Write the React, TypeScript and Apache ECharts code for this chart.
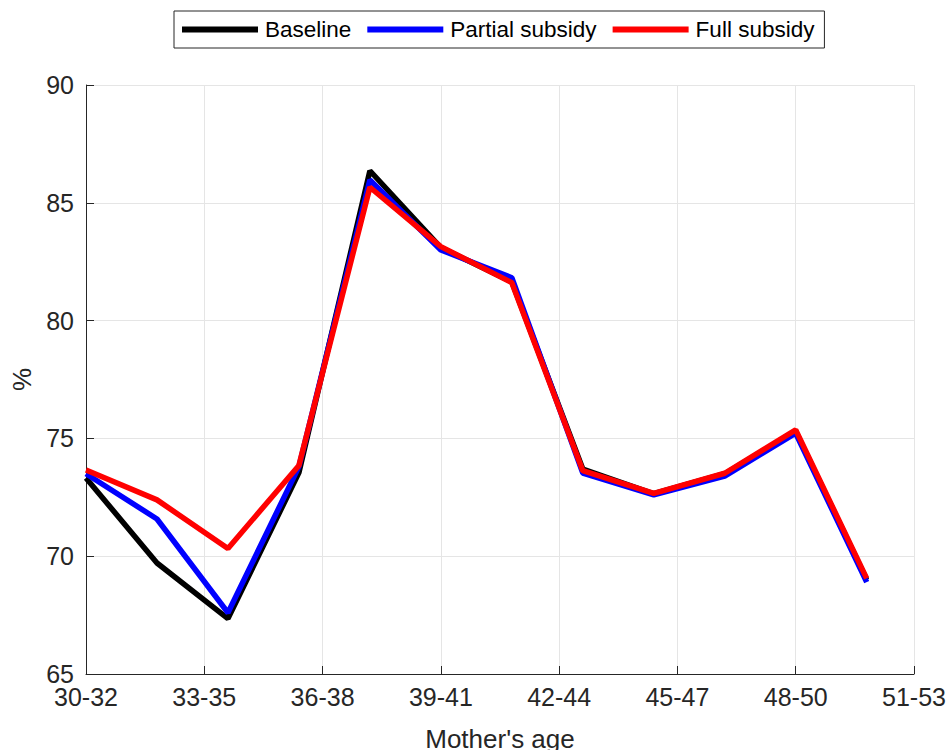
import React, { useEffect, useRef } from "react";
import * as echarts from "echarts";

const ageLabels = ["30-32", "33-35", "36-38", "39-41", "42-44", "45-47", "48-50", "51-53"];
// x positions of the 12 data points, in axis units where each age label is 5 units apart
const xPositions = [0, 3, 6, 9, 12, 15, 18, 21, 24, 27, 30, 33];
const baseline = [73.32, 69.71, 67.35, 73.55, 86.36, 83.1, 81.65, 73.7, 72.65, 73.5, 75.3, 69.0];
const partialSubsidy = [73.5, 71.58, 67.6, 73.8, 85.97, 83.0, 81.82, 73.53, 72.6, 73.4, 75.22, 68.9];
const fullSubsidy = [73.66, 72.39, 70.33, 73.85, 85.66, 83.14, 81.61, 73.63, 72.67, 73.52, 75.36, 69.06];

const toPairs = (ys: number[]) => ys.map((y, i) => [xPositions[i], y]);

export default function App() {
  const ref = useRef<HTMLDivElement>(null);
  useEffect(() => {
    if (!ref.current) return;
    const chart = echarts.init(ref.current, undefined, { renderer: "svg" });
    const axisColor = "#262626";
    const font = "'Liberation Sans', Arial, Helvetica, sans-serif";
    chart.setOption({
      animation: false,
      backgroundColor: "#ffffff",
      textStyle: { fontFamily: font },
      grid: {
        left: 86,
        right: 36,
        top: 85,
        bottom: 76,
        containLabel: false,
        outerBoundsMode: "none",
      },
      legend: {
        left: 174,
        top: 11,
        icon: "rect",
        itemWidth: 76,
        itemHeight: 6,
        itemGap: 16,
        borderColor: axisColor,
        borderWidth: 1,
        padding: [7, 10, 7, 8],
        backgroundColor: "#ffffff",
        textStyle: { fontSize: 22.5, color: "#000", fontFamily: font, padding: [0, 0, 0, 2] },
        data: ["Baseline", "Partial subsidy", "Full subsidy"],
      },
      xAxis: {
        type: "value",
        min: 0,
        max: 35,
        interval: 5,
        name: "Mother's age",
        nameLocation: "middle",
        nameGap: 52,
        nameTextStyle: { fontSize: 26, color: axisColor, fontFamily: font },
        axisLine: { show: true, onZero: false, lineStyle: { color: axisColor, width: 1 } },
        axisTick: { show: true, inside: true, length: 8, lineStyle: { color: axisColor } },
        axisLabel: {
          fontSize: 25,
          color: axisColor,
          margin: 10,
          fontFamily: font,
          formatter: (v: number) => ageLabels[Math.round(v / 5)] ?? "",
        },
        splitLine: { show: true, lineStyle: { color: "#e5e5e5", width: 1 } },
      },
      yAxis: {
        type: "value",
        min: 65,
        max: 90,
        interval: 5,
        name: "%",
        nameLocation: "middle",
        nameGap: 50,
        nameRotate: 90,
        nameTextStyle: { fontSize: 26, color: axisColor, fontFamily: font },
        axisLine: { show: true, onZero: false, lineStyle: { color: axisColor, width: 1 } },
        axisTick: { show: true, inside: true, length: 8, lineStyle: { color: axisColor } },
        axisLabel: { fontSize: 25, color: axisColor, margin: 12, fontFamily: font },
        splitLine: { show: true, lineStyle: { color: "#e5e5e5", width: 1 } },
      },
      series: [
        {
          name: "Baseline",
          type: "line",
          symbol: "none",
          data: toPairs(baseline),
          color: "#000000",
          lineStyle: { width: 5.5, color: "#000000" },
        },
        {
          name: "Partial subsidy",
          type: "line",
          symbol: "none",
          data: toPairs(partialSubsidy),
          color: "#0000ff",
          lineStyle: { width: 5.5, color: "#0000ff" },
        },
        {
          name: "Full subsidy",
          type: "line",
          symbol: "none",
          data: toPairs(fullSubsidy),
          color: "#ff0000",
          lineStyle: { width: 5.5, color: "#ff0000" },
        },
      ],
    });
    return () => chart.dispose();
  }, []);
  return (
    <div
      ref={ref}
      style={{ position: "fixed", left: 0, top: 0, width: 950, height: 750, background: "#fff" }}
    />
  );
}
